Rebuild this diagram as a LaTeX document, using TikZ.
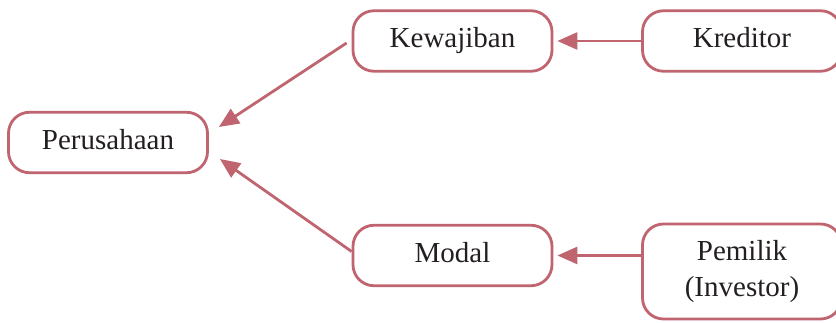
\documentclass[tikz,border=0pt]{standalone}
\usepackage{fontspec}
\setmainfont{Liberation Serif}
\usetikzlibrary{arrows.meta}
\definecolor{rose}{RGB}{192,100,112}
\definecolor{ink}{RGB}{35,31,32}
\begin{document}
\begin{tikzpicture}[x=1pt, y=1pt,
		box/.style={draw=rose, line width=2.8pt, rounded corners=21pt, minimum width=199pt, minimum height=60.5pt, text=ink, align=center, text height=20pt, text depth=6pt, font=\fontsize{29}{36}\selectfont},
		link/.style={draw=rose, line width=2.8pt, -{Triangle[length=20pt, width=17pt]}}]
				\useasboundingbox (0, 0) rectangle (836, 323);

				\node (Perusahaan) [box] at (108, 180.5) {Perusahaan};
				\node (Kewajiban) [box] at (452.5, 282) {Kewajiban};
				\node (Kreditor) [box] at (742, 282) {Kreditor};
				\node (Modal) [box] at (452.5, 67.5) {Modal};
				\node (Pemilik) [box, minimum height=95pt, text height=, text depth=] at (742, 51.5) {Pemilik\\(Investor)};

				\draw [link, shorten >=4pt] (Kreditor.west) -- (Kewajiban.east);
				\draw [link] ([shift={(-5pt, -2pt)}]Kewajiban.west) -- ([shift={(10pt, 15.5pt)}]Perusahaan.east);
				\draw [link] ([yshift=4pt]Modal.west) -- ([shift={(11pt, -16.5pt)}]Perusahaan.east);
				\draw [link, shorten >=4pt] (Pemilik.west |- Modal.east) -- (Modal.east);
			\end{tikzpicture}
\end{document}
